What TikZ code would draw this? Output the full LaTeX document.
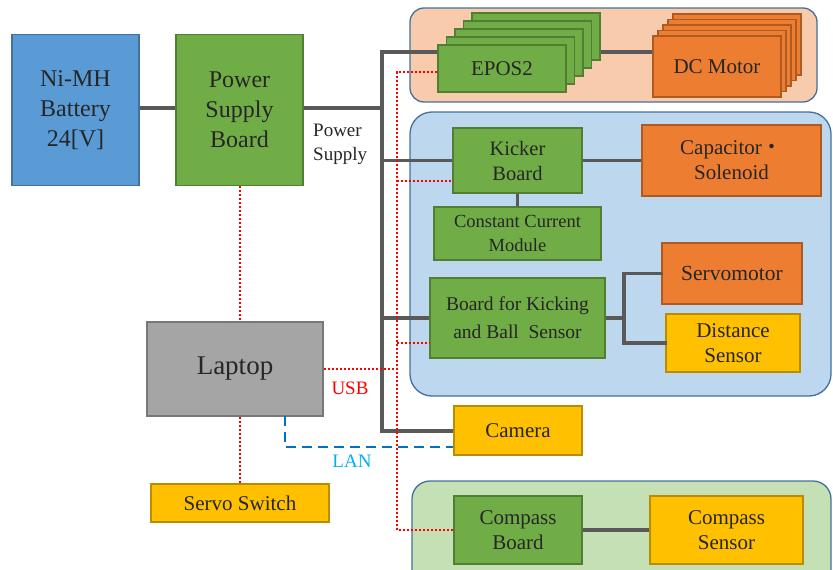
\documentclass[tikz,border=0pt]{standalone}
\usepackage{fontspec}
\setmainfont{Liberation Serif}
\newfontfamily\cjkfont{Noto Sans CJK JP}
\definecolor{txt}{HTML}{262626}
\definecolor{cblue}{HTML}{5B9BD5}\definecolor{cblueB}{HTML}{41719C}
\definecolor{cgreen}{HTML}{70AD47}\definecolor{cgreenB}{HTML}{507E32}
\definecolor{corange}{HTML}{ED7D31}\definecolor{corangeB}{HTML}{AE5A21}
\definecolor{cyellow}{HTML}{FFC000}\definecolor{cyellowB}{HTML}{BC8C00}
\definecolor{cgrey}{HTML}{A5A5A5}\definecolor{cgreyB}{HTML}{787878}
\definecolor{gpeach}{HTML}{F8CBAD}\definecolor{gblue}{HTML}{BDD7EE}\definecolor{ggreen}{HTML}{C5E0B4}
\definecolor{gborder}{HTML}{41719C}
\definecolor{wire}{HTML}{595959}
\definecolor{usbred}{HTML}{FF0000}
\definecolor{lanblue}{HTML}{0070C0}
\definecolor{lanlabel}{HTML}{00B0F0}
\begin{document}
\begin{tikzpicture}[x=1pt,y=-1pt,
  blk/.style={draw, line width=1.3pt, inner sep=0pt, align=center, text=txt,
    font=\fontsize{21}{25}\selectfont},
  grn/.style={blk, fill=cgreen, draw=cgreenB},
  org/.style={blk, fill=corange, draw=corangeB},
  yel/.style={blk, fill=cyellow, draw=cyellowB},
  grp/.style={draw=gborder, line width=1.3pt},
  pwr/.style={draw=wire, line width=3.5pt},
  usb/.style={draw=usbred, line width=2pt, dash pattern=on 2pt off 2pt},
  lan/.style={draw=lanblue, line width=2pt, dash pattern=on 10pt off 6pt},
  lbl/.style={font=\fontsize{19}{24}\selectfont, align=left, inner sep=0pt}
]
\useasboundingbox (0,0) rectangle (833,570);
% groups
\draw[grp, fill=gpeach, rounded corners=14pt] (410,8) rectangle (817,102);
\draw[grp, fill=gblue, rounded corners=22pt] (410,112) rectangle (831,396);
\draw[grp, fill=ggreen, rounded corners=18pt] (412,481) rectangle (831,590);

% stacks behind
\foreach \k in {4,3,2,1}{
  \node[grn, minimum width=128pt, minimum height=47pt] (e\k) at (502+8.5*\k,68.5-8*\k) {};
  \node[org, minimum width=128pt, minimum height=61pt] (d\k) at (717+5*\k,66.5-5.5*\k) {};
}

% nodes
\node[blk, fill=cblue, draw=cblueB, minimum width=127pt, minimum height=151pt,
  font=\fontsize{24}{30}\selectfont] (bat) at (75.5,110) {Ni-MH\\Battery\\24[V]};
\node[grn, minimum width=127pt, minimum height=151pt,
  font=\fontsize{24}{30}\selectfont] (psb) at (239.5,110) {Power\\Supply\\Board};
\node[grn, minimum width=128pt, minimum height=47pt] (epos) at (502,68.5) {EPOS2};
\node[org, minimum width=128pt, minimum height=61pt] (dc) at (717,66.5) {DC Motor};
\node[grn, minimum width=129pt, minimum height=65pt, font=\fontsize{20.5}{25}\selectfont] (kick) at (517.5,160.5) {Kicker\\Board};
\node[org, minimum width=179pt, minimum height=71pt] (cap) at (731.5,160.5) {Capacitor{\cjkfont ・}\\Solenoid};
\node[grn, minimum width=167pt, minimum height=53pt, font=\fontsize{18.5}{24}\selectfont] (ccm) at (517.5,233.5) {Constant Current\\Module};
\node[grn, minimum width=175pt, minimum height=80pt, font=\fontsize{19.5}{28}\selectfont] (bkbs) at (517.5,318) {Board for Kicking\\and Ball\ \ Sensor};
\node[org, minimum width=140pt, minimum height=61pt, font=\fontsize{21.5}{25}\selectfont] (servo) at (732,273.5) {Servomotor};
\node[yel, minimum width=134pt, minimum height=58pt] (dist) at (733,343) {Distance\\Sensor};
\node[blk, fill=cgrey, draw=cgreyB, minimum width=176pt, minimum height=94pt,
  font=\fontsize{27}{32}\selectfont] (lap) at (235,369) {Laptop};
\node[yel, minimum width=178pt, minimum height=38pt] (ssw) at (240,503) {Servo Switch};
\node[yel, minimum width=128pt, minimum height=49pt] (cam) at (518,430.5) {Camera};
\node[grn, minimum width=128pt, minimum height=68pt] (cb) at (518,530) {Compass\\Board};
\node[yel, minimum width=153pt, minimum height=68pt] (cs) at (726.5,530) {Compass\\Sensor};

% coordinates
\coordinate (bt) at (382,52);
\coordinate (bb) at (382,431);
\coordinate (rt) at (397,72);
\coordinate (rb) at (397,530);
\coordinate (j) at (624,318);

% power wires
\draw[pwr] (bat.east |- 0,108) -- (psb.west |- 0,108);
\draw[pwr] (psb.east |- 0,108) -- (bt |- 0,108);
\draw[pwr] (epos.west |- bt) -- (bt) -- (bb) -- (cam.west |- bb);
\draw[pwr] (bt |- kick.west) -- (kick.west);
\draw[pwr] (bt |- bkbs.west) -- (bkbs.west);
\draw[pwr] (e4.east |- 0,52) -- (dc.west |- 0,52);
\draw[pwr] (kick.east) -- (cap.west);
\draw[pwr] (kick.south) -- (ccm.north);
\draw[pwr] (bkbs.east) -- (j);
\draw[pwr, line cap=rect] (servo.west) -| (j) |- (dist.west);
\draw[pwr] (cb.east) -- (cs.west);

% USB dotted
\draw[usb] (epos.west |- rt) -- (rt) -- (rb) -- (cb.west);
\draw[usb] (rt |- 0,181) -- (kick.west |- 0,181);
\draw[usb] (rt |- 0,343) -- (bkbs.west |- 0,343);
\draw[usb] (lap.east) -- (lap.east -| rt);
\draw[usb] (psb.south) -- (psb.south |- lap.north);
\draw[usb] (lap.south -| ssw.north) -- (ssw.north);

% LAN dashed
\draw[lan] (285,416) -- (285,447) -- (cam.west |- 0,447);

% labels
\node[lbl, text=txt, anchor=west] (pslbl) at (313,144) {Power\\Supply};
\node[lbl, text=usbred] (usblbl) at (350,388) {USB};
\node[lbl, text=lanlabel] (lanlbl) at (352,461) {LAN};
\end{tikzpicture}
\end{document}
